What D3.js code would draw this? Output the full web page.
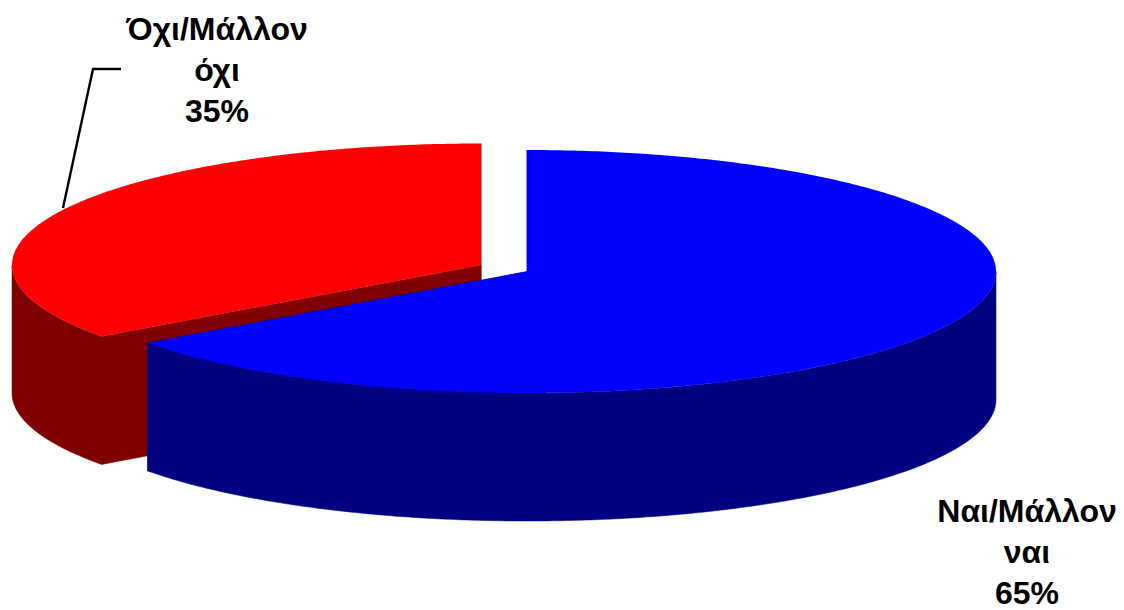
<!DOCTYPE html>
<html>
<head>
<meta charset="utf-8">
<script src="https://cdnjs.cloudflare.com/ajax/libs/d3/7.8.5/d3.min.js"></script>
<style>
    html, body { margin: 0; padding: 0; background: #fff; }
    svg { display: block; }
    text { font-family: "Liberation Sans", Arial, sans-serif; font-weight: bold; font-size: 32px; fill: #000; }
</style>
</head>
<body>
<svg id="viz" width="1124" height="610"></svg>
<script>
// data
const categories = ["Ναι/Μάλλον ναι", "Όχι/Μάλλον όχι"];
const shares = [65, 35];
const labelLines = [["Ναι/Μάλλον", "ναι", "65%"], ["Όχι/Μάλλον", "όχι", "35%"]];

const topColors = ["#0000ff", "#ff0000"];
const sideColors = ["#000080", "#800000"];

// pie geometry
const rx = 469, ry = 121.5, depth = 128;
const centers = [[527, 271.5], [481, 265]];
const labelPos = [[1027, 522], [217, 40]];
const lineHeight = 41;

const svg = d3.select("#viz");
const slices = d3.pie().sort(null)(shares);

// angle is clockwise from 12 o'clock, like d3.pie
const px = (c, a) => c[0] + rx * Math.sin(a);
const py = (c, a, dz) => c[1] - ry * Math.cos(a) + (dz || 0);

function arcPoints(c, a0, a1, dz) {
    const n = Math.max(2, Math.ceil(Math.abs(a1 - a0) / 0.01));
    return d3.range(n + 1).map(i => {
        const a = a0 + (a1 - a0) * i / n;
        return [px(c, a), py(c, a, dz)];
    });
}

const line = d3.line();

function topPath(c, s) {
    return line([c].concat(arcPoints(c, s.startAngle, s.endAngle, 0))) + "Z";
}

function wallPath(c, a0, a1) {
    return line(arcPoints(c, a0, a1, 0).concat(arcPoints(c, a1, a0, depth))) + "Z";
}

function cutPath(c, a) {
    return line([c, [px(c, a), py(c, a)], [px(c, a), py(c, a, depth)], [c[0], c[1] + depth]]) + "Z";
}

// only the part of the rim facing the viewer (90deg .. 270deg) has a wall
function drawSlice(i) {
    const s = slices[i], c = centers[i];
    const g = svg.append("g").attr("class", "slice");
    const a0 = Math.max(s.startAngle, Math.PI / 2);
    const a1 = Math.min(s.endAngle, Math.PI * 1.5);
    // one path for the side faces, so no seam shows between them
    const sides = cutPath(c, s.startAngle) + cutPath(c, s.endAngle) + wallPath(c, a0, a1);
    g.append("path").attr("d", sides).attr("fill", sideColors[i])
        .attr("stroke", sideColors[i]).attr("stroke-width", 0.5);
    g.append("path").attr("d", topPath(c, s)).attr("fill", topColors[i]);
}

// red one sits behind the blue one
drawSlice(1);
drawSlice(0);

// leader line
svg.append("path")
    .attr("d", line([[63, 208], [93, 69], [121, 69]]))
    .attr("fill", "none")
    .attr("stroke", "#000")
    .attr("stroke-width", 2.4);

// labels
labelLines.forEach((lines, i) => {
    const t = svg.append("text").attr("text-anchor", "middle");
    lines.forEach((l, j) => {
        t.append("tspan")
            .attr("x", labelPos[i][0])
            .attr("y", labelPos[i][1] + j * lineHeight)
            .text(l);
    });
});
</script>
</body>
</html>
